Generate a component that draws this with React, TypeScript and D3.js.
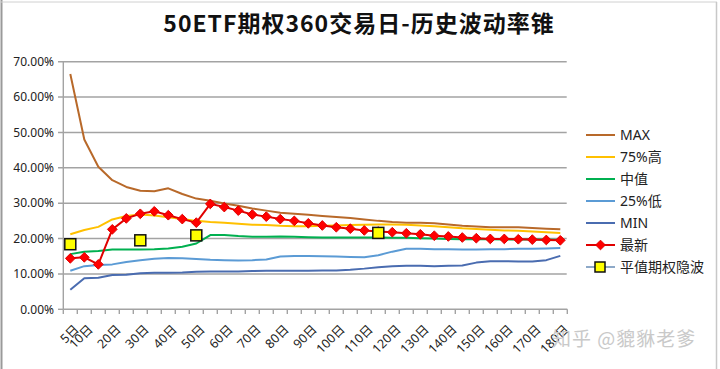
import React from "react";
import * as d3 from "d3";

const title = "50ETF期权360交易日-历史波动率锥";
const categories = ["5日","10日","15日","20日","25日","30日","35日","40日","45日","50日","55日","60日","65日","70日","75日","80日","85日","90日","95日","100日","105日","110日","115日","120日","125日","130日","135日","140日","145日","150日","155日","160日","165日","170日","175日","180日"];
const shownLabels = ["5日","10日","20日","30日","40日","50日","60日","70日","80日","90日","100日","110日","120日","130日","140日","150日","160日","170日","180日"];
const yTicks = [0, 10, 20, 30, 40, 50, 60, 70];
const yTickLabels = ["0.00%","10.00%","20.00%","30.00%","40.00%","50.00%","60.00%","70.00%"];

const maxS = [66.5,48.0,40.3,36.5,34.6,33.5,33.4,34.2,32.6,31.3,30.7,29.9,29.3,28.5,27.9,27.3,27.0,26.7,26.4,26.1,25.8,25.4,25.0,24.7,24.5,24.5,24.3,24.0,23.6,23.4,23.2,23.2,23.2,23.0,22.8,22.6];
const p75S = [21.2,22.4,23.3,25.4,26.4,26.8,26.5,26.0,25.5,25.0,24.7,24.5,24.2,23.9,23.8,23.6,23.5,23.5,23.6,23.7,23.8,23.9,24.0,24.0,23.9,23.7,23.5,23.2,22.9,22.7,22.5,22.3,22.2,22.0,21.8,21.6];
const medS = [15.6,16.3,16.5,16.9,16.9,16.9,17.0,17.2,17.7,18.6,21.0,21.0,20.7,20.5,20.5,20.6,20.5,20.4,20.3,20.3,20.3,20.3,20.3,20.2,20.2,20.1,20.0,19.9,19.8,19.8,19.8,19.7,19.7,19.7,19.7,19.6];
const p25S = [10.9,12.2,12.5,12.7,13.4,13.9,14.3,14.5,14.4,14.2,14.0,13.9,13.8,13.9,14.1,14.9,15.1,15.1,15.0,14.9,14.8,14.7,15.3,16.3,17.1,17.1,17.0,17.0,16.9,16.9,17.0,17.0,17.1,17.1,17.2,17.3];
const minS = [5.5,8.8,8.9,9.7,9.8,10.2,10.3,10.3,10.4,10.6,10.7,10.7,10.7,10.8,10.9,10.9,10.9,10.9,11.0,11.0,11.2,11.5,11.9,12.2,12.3,12.3,12.2,12.3,12.4,13.2,13.6,13.6,13.5,13.5,13.9,15.1];
const latestS = [14.4,14.7,12.7,22.6,25.7,27.0,27.7,26.6,25.5,24.5,29.8,28.9,27.9,26.8,26.2,25.5,25.0,24.3,23.7,23.2,22.8,22.3,22.0,21.8,21.5,21.2,20.8,20.6,20.3,20.1,19.9,19.9,19.8,19.7,19.6,19.5];
const ivS: (number | null)[] = [18.4,null,null,null,null,19.5,null,null,null,20.9,null,null,null,null,null,null,null,null,null,null,null,null,21.6,null,null,null,null,null,null,null,null,null,null,null,null,null];

const lineSeries = [
  { name: "MAX", values: maxS, color: "#B8692A" },
  { name: "75%高", values: p75S, color: "#FFC000" },
  { name: "中值", values: medS, color: "#00B050" },
  { name: "25%低", values: p25S, color: "#5B9BD5" },
  { name: "MIN", values: minS, color: "#4A6CB0" },
];

export default function App() {
  const W = 720, H = 369;
  const x = d3.scaleBand<string>().domain(categories).range([63.3, 567.3]).padding(0);
  const y = d3.scaleLinear().domain([0, 70]).range([309.3, 61.7]);
  const cx = (c: string) => (x(c) as number) + x.bandwidth() / 2;
  const line = d3.line<number>().x((_, i) => cx(categories[i])).y((d) => y(d));
  const font = "'Noto Sans', 'Noto Sans CJK SC', sans-serif";
  const diamond = d3.symbol().type(d3.symbolDiamond2).size(60)();
  const legendItems = [...lineSeries.map((s) => ({ name: s.name, color: s.color, kind: "line" })), { name: "最新", color: "#E00000", kind: "latest" }, { name: "平值期权隐波", color: "#8EA9C8", kind: "iv" }];
  const boundaries = d3.range(categories.length + 1).map((i) => 63.3 + i * x.step());
  return (
    <svg width={W} height={H} style={{ position: "absolute", left: 0, top: 0, background: "#fff" }} fontFamily={font}>
      <rect x={0} y={0} width={W} height={H} fill="#fff" />
      <line x1={1.5} y1={0} x2={1.5} y2={H} stroke="#9a9a9a" strokeWidth={2} />
      <line x1={0} y1={2} x2={717} y2={2} stroke="#d0d0d0" strokeWidth={1} />
      <line x1={716.5} y1={2} x2={716.5} y2={H} stroke="#c8c8c8" strokeWidth={1.5} />
      <text x={359} y={32} textAnchor="middle" fontSize={23} letterSpacing={1} fontWeight="bold" fontFamily="'Noto Sans CJK SC', sans-serif" fill="#111">{title}</text>
      {yTicks.map((t, i) => (
        <g key={t}>
          {t > 0 && <line x1={58} x2={566.7} y1={y(t)} y2={y(t)} stroke="#a3a3a3" strokeWidth={1.4} />}
          {t === 0 && <line x1={58} x2={63.3} y1={y(t)} y2={y(t)} stroke="#a3a3a3" strokeWidth={1.4} />}
          <text x={54} y={y(t)} dy="0.35em" textAnchor="end" fontSize={12} fill="#222">{yTickLabels[i]}</text>
        </g>
      ))}
      <line x1={63.3} x2={63.3} y1={61.7} y2={309.3} stroke="#a3a3a3" strokeWidth={1.4} />
      <line x1={63.3} x2={567.3} y1={309.3} y2={309.3} stroke="#a3a3a3" strokeWidth={1.4} />
      {boundaries.map((b, i) => (
        <line key={i} x1={b} x2={b} y1={309.3} y2={314} stroke="#a3a3a3" strokeWidth={1.4} />
      ))}
      {categories.map((c) =>
        shownLabels.includes(c) ? (
          <text key={c} transform={`translate(${cx(c) + 3},${324}) rotate(-45)`} textAnchor="end" dy="0.7em" fontSize={12.5} fill="#222">{c}</text>
        ) : null
      )}
      {lineSeries.map((s) => (
        <path key={s.name} d={line(s.values) as string} fill="none" stroke={s.color} strokeWidth={2} strokeLinejoin="round" />
      ))}
      <path d={line(latestS) as string} fill="none" stroke="#E00000" strokeWidth={2} />
      {latestS.map((v, i) => (
        <path key={i} d={diamond as string} transform={`translate(${cx(categories[i])},${y(v)})`} fill="#FF0000" stroke="#E00000" strokeWidth={1} />
      ))}
      {ivS.map((v, i) =>
        v == null ? null : (
          <rect key={i} x={cx(categories[i]) - 5.5} y={y(v) - 5.5} width={11} height={11} fill="#FFFF00" stroke="#111" strokeWidth={1.5} />
        )
      )}
      {legendItems.map((it, i) => {
        const ly = 135 + i * 22;
        return (
          <g key={it.name}>
            <line x1={586} x2={615} y1={ly} y2={ly} stroke={it.color} strokeWidth={2} />
            {it.kind === "latest" && <path d={diamond as string} transform={`translate(600.5,${ly})`} fill="#FF0000" stroke="#E00000" />}
            {it.kind === "iv" && <rect x={595} y={ly - 5} width={10} height={10} fill="#FFFF00" stroke="#111" strokeWidth={1.5} />}
            <text x={620} y={ly} dy="0.36em" fontSize={14} fill="#222">{it.name}</text>
          </g>
        );
      })}
      <text x={552} y={346} fontSize={19} letterSpacing={1} fill="#c9c9c9" fontFamily="'Noto Sans CJK SC', sans-serif">知乎 @貔貅老爹</text>
    </svg>
  );
}
